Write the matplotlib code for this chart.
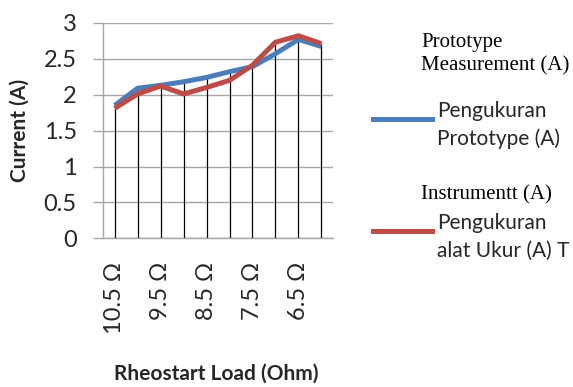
import matplotlib
matplotlib.use("Agg")
import matplotlib.pyplot as plt
from matplotlib.lines import Line2D
import numpy as np

# Rheostat load settings (ohm) and measured currents (A)
loads = ["10.5 Ω", "10 Ω", "9.5 Ω", "9 Ω", "8.5 Ω", "8 Ω", "7.5 Ω", "7 Ω", "6.5 Ω", "6 Ω"]
prototype_current = [1.85, 2.09, 2.13, 2.18, 2.24, 2.32, 2.39, 2.57, 2.77, 2.67]
instrument_current = [1.81, 2.01, 2.12, 2.01, 2.10, 2.20, 2.41, 2.73, 2.82, 2.71]
y_ticks = [0, 0.5, 1, 1.5, 2, 2.5, 3]
y_tick_labels = ["0", "0.5", "1", "1.5", "2", "2.5", "3"]

BLUE = "#4A7EBB"
RED = "#BE4B48"
GRID = "#A6A6A6"
TEXT = "#262626"
SANS = "Lato"
SERIF = "Liberation Serif"

fig = plt.figure(figsize=(5.73, 3.87), dpi=100)
ax = fig.add_axes([0.18, 0.384, 0.401, 0.557])

x = np.arange(len(loads))
tops = np.maximum(prototype_current, instrument_current)

# drop lines from the upper series down to the category axis
ax.vlines(x, 0, tops, color="black", linewidth=0.9, zorder=2)
ax.plot(x, prototype_current, color=BLUE, linewidth=3.6, solid_capstyle="butt", zorder=3)
ax.plot(x, instrument_current, color=RED, linewidth=3.6, solid_capstyle="butt", zorder=4)

ax.set_xlim(-0.5, len(loads) - 0.5)
ax.set_ylim(0, 3)
ax.set_yticks(y_ticks)
ax.set_yticklabels(y_tick_labels, fontsize=17, family=SANS, color=TEXT)
ax.yaxis.grid(True, color=GRID, linewidth=1.0)
ax.set_axisbelow(True)
ax.tick_params(axis="y", length=7, color=GRID, width=1.0, pad=12)

ax.set_xticks(x[::2])
ax.set_xticklabels(loads[::2], rotation=90, fontsize=17, family=SANS, va="top", color=TEXT)
ax.tick_params(axis="x", length=0, pad=17)

for side in ("top", "right"):
    ax.spines[side].set_visible(False)
ax.spines["left"].set_color(GRID)
ax.spines["bottom"].set_color(GRID)
ax.spines["left"].set_linewidth(1.0)
ax.spines["bottom"].set_linewidth(1.0)

fig.text(0.035, 1 - 130 / 387, "Current (A)", fontsize=15, fontweight="bold", family=SANS,
         rotation=90, ha="center", va="center", color=TEXT)
fig.text(0.378, 1 - 374 / 387, "Rheostart Load (Ohm)", fontsize=15, fontweight="bold",
         family=SANS, ha="center", va="center", color=TEXT)

# legend block
fig.text(0.735, 1 - 54 / 387, "Prototype\nMeasurement (A)", fontsize=15, family=SERIF,
         ha="left", va="center", linespacing=1.3, color="black")
fig.add_artist(Line2D([0.651, 0.754], [1 - 119 / 387] * 2, color=BLUE, linewidth=3.6,
                      transform=fig.transFigure))
fig.text(0.762, 1 - 125 / 387, "Pengukuran\nPrototype (A)", fontsize=15, family=SANS,
         ha="left", va="center", linespacing=1.5, color=TEXT)
fig.text(0.735, 1 - 195 / 387, "Instrumentt (A)", fontsize=15, family=SERIF,
         ha="left", va="center", color="black")
fig.add_artist(Line2D([0.651, 0.754], [1 - 231 / 387] * 2, color=RED, linewidth=3.6,
                      transform=fig.transFigure))
fig.text(0.762, 1 - 237 / 387, "Pengukuran\nalat Ukur (A) T", fontsize=15, family=SANS,
         ha="left", va="center", linespacing=1.5, color=TEXT)

fig.savefig("out.png", dpi=100)
